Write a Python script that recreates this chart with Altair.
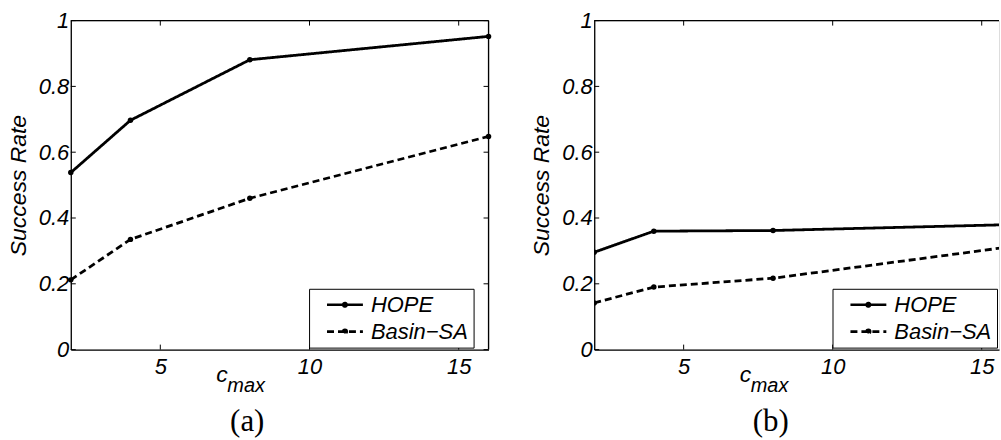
import altair as alt
import pandas as pd

# ---- data ----
cmax = [2, 4, 8, 16]
hope_a = [0.538, 0.697, 0.881, 0.952]
basin_a = [0.212, 0.335, 0.460, 0.648]
hope_b = [0.296, 0.360, 0.362, 0.380]
basin_b = [0.142, 0.190, 0.217, 0.313]
series_names = ["HOPE", "Basin\u2212SA"]
x_ticks = [5, 10, 15]
y_ticks = [0, 0.2, 0.4, 0.6, 0.8, 1]
panel_labels = ["(a)", "(b)"]
x_domain_a = [2, 16]
x_domain_b = [2, 15.58]   # right part of panel (b) is cut off in the reference

H = 330
SANS = "Liberation Sans"
SERIF = "Liberation Serif"


def panel(hope, basin, label, width, xdomain, right_frame=True, clip=False):
    df = pd.DataFrame({
        "cmax": cmax * 2,
        "rate": hope + basin,
        "series": [series_names[0]] * len(cmax) + [series_names[1]] * len(cmax),
    })
    xscale = alt.Scale(domain=xdomain, nice=False, zero=False)
    yscale = alt.Scale(domain=[0, 1], nice=False)

    xaxis = alt.Axis(values=x_ticks, format="d", title=None, ticks=False, grid=False,
                     domain=True, domainColor="black", domainWidth=1.3,
                     labelPadding=7, labelFont=SANS, labelFontStyle="italic",
                     labelFontSize=22, labelColor="black", labelFlush=False)
    yaxis = alt.Axis(values=y_ticks, format="~g", title="Success Rate", ticks=False, grid=False,
                     domain=True, domainColor="black", domainWidth=1.3,
                     labelPadding=2, labelFont=SANS, labelFontStyle="italic",
                     labelFontSize=22, labelColor="black", labelFlush=False,
                     titleFont=SANS, titleFontStyle="italic", titleFontWeight="normal",
                     titleFontSize=23, titleColor="black", titlePadding=8)

    legend = alt.Legend(title=None, orient="none", legendX=239, legendY=269,
                        strokeColor="black", fillColor="white", padding=5,
                        symbolType="M-3,0H3M-0.3,0A0.3,0.3,0,1,1,0.3,0A0.3,0.3,0,1,1,-0.3,0",
                        symbolSize=144, symbolStrokeWidth=2.6, symbolStrokeColor="black",
                        symbolFillColor="black", symbolOffset=20, labelOffset=15,
                        rowPadding=5, labelFont=SANS, labelFontStyle="italic",
                        labelFontSize=22, labelColor="black", labelLimit=300)

    base = alt.Chart(df)
    lines = base.mark_line(color="black", strokeWidth=2.8, clip=clip).encode(
        x=alt.X("cmax:Q", scale=xscale, axis=xaxis),
        y=alt.Y("rate:Q", scale=yscale, axis=yaxis),
        strokeDash=alt.StrokeDash("series:N",
                                  scale=alt.Scale(domain=series_names, range=[[1, 0], [7, 4]]),
                                  legend=legend),
    )
    points = base.mark_point(filled=True, color="black", size=30, opacity=1, clip=clip).encode(
        x=alt.X("cmax:Q", scale=xscale),
        y=alt.Y("rate:Q", scale=yscale),
    )

    xt = alt.Chart(pd.DataFrame({"cmax": x_ticks}))
    yt = alt.Chart(pd.DataFrame({"rate": y_ticks}))
    one = alt.Chart(pd.DataFrame({"t": [label]}))

    layers = [
        lines,
        points,
        xt.mark_rule(color="black", strokeWidth=1).encode(
            x=alt.X("cmax:Q", scale=xscale), y=alt.value(H), y2=alt.value(H - 5)),
        xt.mark_rule(color="black", strokeWidth=1).encode(
            x=alt.X("cmax:Q", scale=xscale), y=alt.value(0), y2=alt.value(5)),
        yt.mark_rule(color="black", strokeWidth=1).encode(
            y=alt.Y("rate:Q", scale=yscale), x=alt.value(0), x2=alt.value(5)),
        one.mark_rule(color="black", strokeWidth=1.3).encode(
            x=alt.value(0), x2=alt.value(width), y=alt.value(0)),
        one.mark_text(text="c", align="left", baseline="alphabetic", font=SANS,
                      fontStyle="italic", fontSize=23, color="black").encode(
            x=alt.value(146), y=alt.value(362)),
        one.mark_text(text="max", align="left", baseline="alphabetic", font=SANS,
                      fontStyle="italic", fontSize=20, color="black").encode(
            x=alt.value(157), y=alt.value(373)),
        one.mark_text(align="center", baseline="alphabetic", font=SERIF,
                      fontSize=31, color="black").encode(
            text="t:N", x=alt.value(177), y=alt.value(412)),
    ]
    if right_frame:
        layers += [
            yt.mark_rule(color="black", strokeWidth=1).encode(
                y=alt.Y("rate:Q", scale=yscale), x=alt.value(width - 5), x2=alt.value(width)),
            one.mark_rule(color="black", strokeWidth=1.3).encode(
                x=alt.value(width), y=alt.value(0), y2=alt.value(H)),
        ]
    return alt.layer(*layers).properties(width=width, height=H)


pa = panel(hope_a, basin_a, panel_labels[0], 419, x_domain_a)
pb = panel(hope_b, basin_b, panel_labels[1], 406, x_domain_b, right_frame=False, clip=True)

chart = alt.hconcat(pa, pb, spacing=106, bounds="flush").properties(
    padding={"left": 6, "top": 8, "right": 0, "bottom": 0}
).resolve_scale(strokeDash="independent").resolve_legend(
    strokeDash="independent"
).configure_view(stroke=None).configure(background="white")

chart.save("out.html", embed_options={"renderer": "svg", "actions": False})
